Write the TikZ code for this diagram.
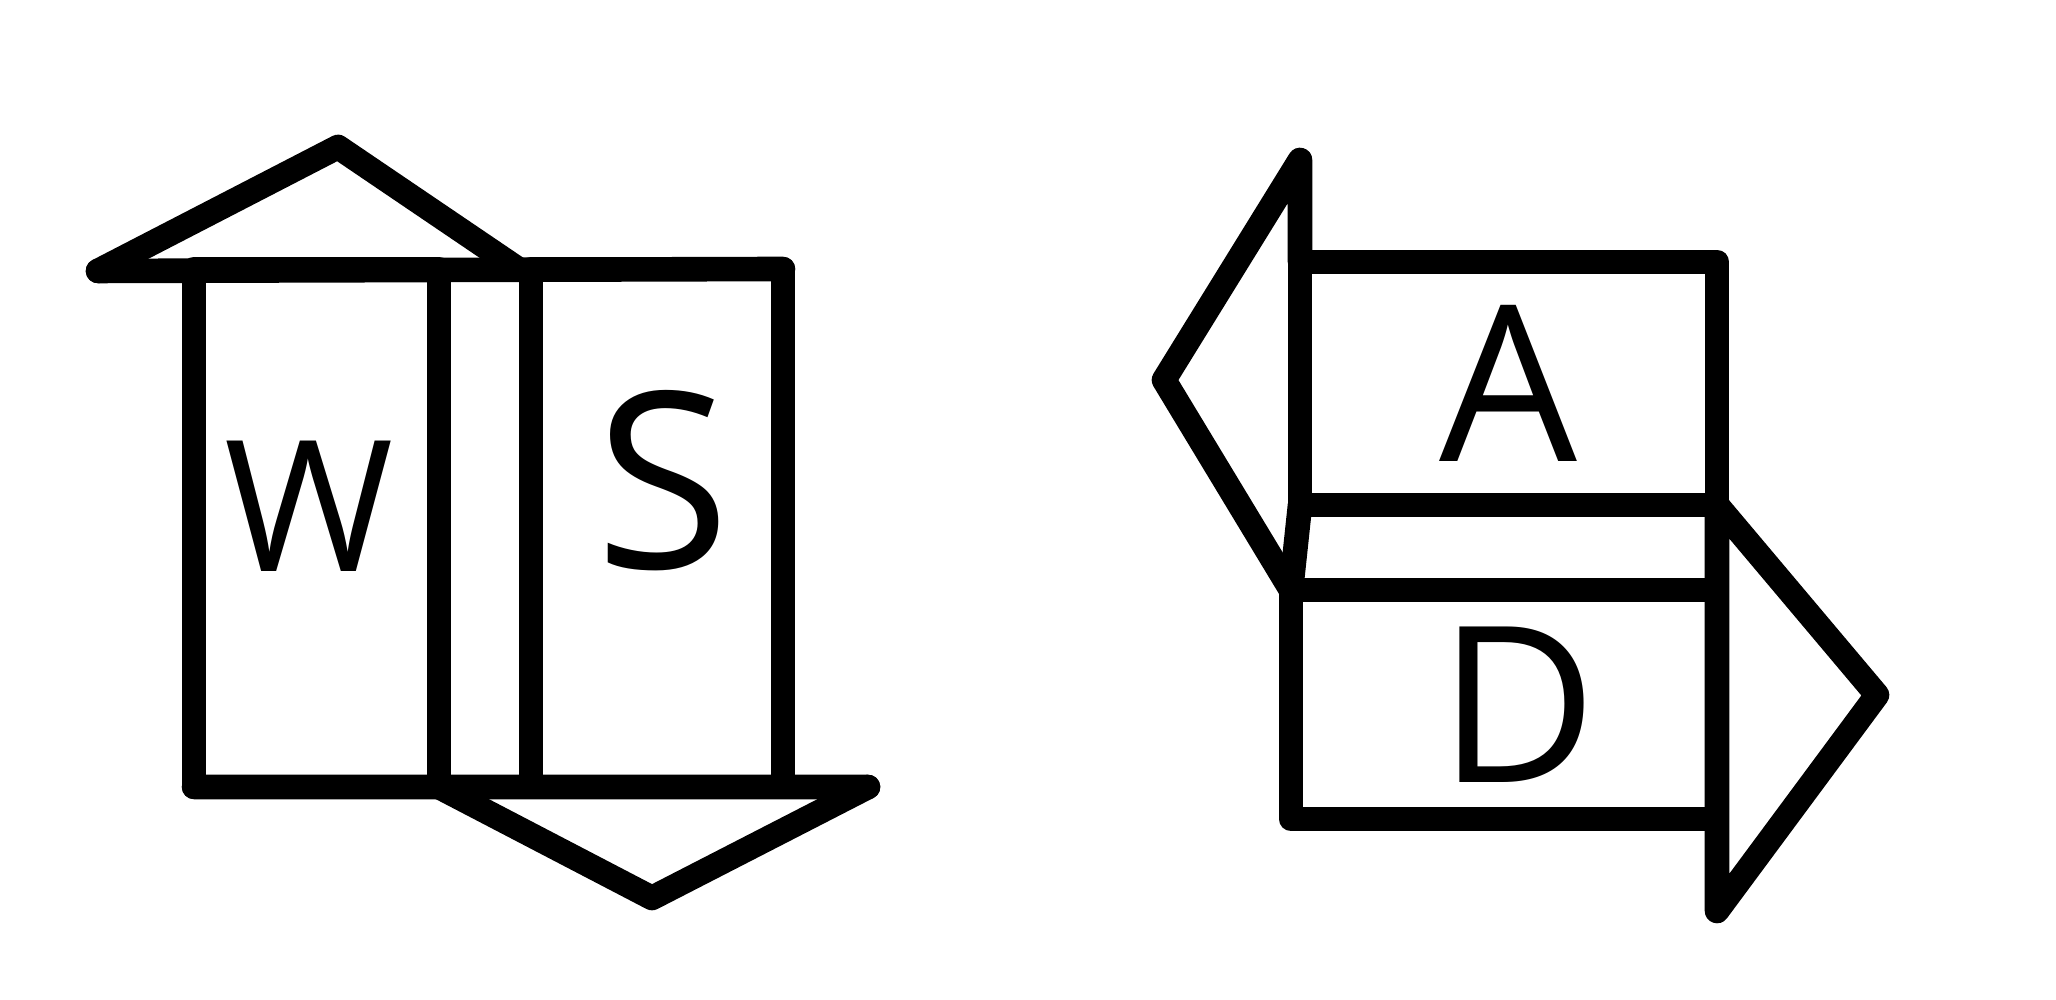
\documentclass[tikz,border=0pt]{standalone}
\usepackage{fontspec}
\setmainfont{Open Sans}
\usetikzlibrary{positioning}

\begin{document}
\begin{tikzpicture}[line join=round,line cap=round]
\tikzstyle{key}=[draw,line width=7pt,inner sep=0pt,outer sep=0pt]
\tikzstyle{letter}=[inner sep=0pt,font=\fontsize{62}{62}\selectfont]
\tikzstyle{edge}=[line width=7pt]
\useasboundingbox (0,0) rectangle (20.56,10);
% W / S pair
\node[key,minimum width=2.45cm,minimum height=5.18cm] (wbox) at (3.165,4.72) {};
\node[key,minimum width=2.52cm,minimum height=5.18cm] (sbox) at (6.57,4.72) {};
\node[letter,font=\fontsize{52}{52}\selectfont] (wkey) at ([xshift=-0.07cm,yshift=0.22cm]wbox.center) {W};
\node[letter,font=\fontsize{70}{70}\selectfont] (skey) at ([xshift=0.06cm,yshift=0.47cm]sbox.center) {S};
\coordinate (upl) at (0.98,7.29);
\coordinate (upt) at (3.38,8.53);
\coordinate (upr) at (5.18,7.31);
\coordinate (dnt) at (6.52,1.02);
\coordinate (dnr) at (8.68,2.13);
\draw[edge] (upl) -- (upt) -- (upr);
\draw[edge] (upl) -- (sbox.north east);
\draw[edge] (wbox.south west) -- (dnr);
\draw[edge] (wbox.south east) -- (dnt) -- (dnr);
% A / D pair
\node[key,minimum width=4.17cm,minimum height=2.43cm] (abox) at (15.085,6.165) {};
\node[key,minimum width=4.26cm,minimum height=2.29cm] (dbox) at (15.04,2.955) {};
\node[letter] (akey) at (abox.center) {A};
\node[letter] (dkey) at ([xshift=0.14cm]dbox.center) {D};
\coordinate (lft) at (13.00,8.40);
\coordinate (lfa) at (11.64,6.20);
\coordinate (rgt) at (18.77,3.05);
\coordinate (rgb) at (17.17,0.89);
\draw[edge] (dbox.north west) -- (lfa) -- (lft) -- (abox.north west);
\draw[edge] (abox.south west) -- (dbox.north west);
\draw[edge] (abox.south east) -- (rgt) -- (rgb) -- (abox.south east);
\end{tikzpicture}
\end{document}
